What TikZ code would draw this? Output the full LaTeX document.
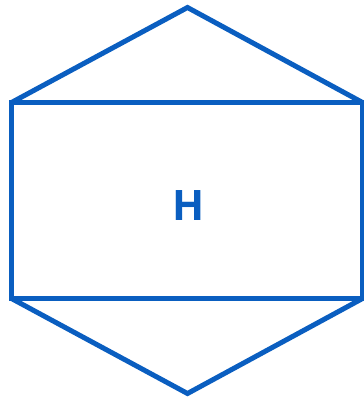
\documentclass[tikz,border=0pt]{standalone}
\usepackage{fontspec}
\setmainfont{Open Sans}
\definecolor{hexblue}{RGB}{10,94,192}
\begin{document}
\begin{tikzpicture}[x=1pt,y=-1pt,
  edge/.style={draw=hexblue,line width=5pt,line join=miter},
  lbl/.style={text=hexblue,font=\fontsize{42}{42}\selectfont\bfseries,inner sep=0pt,anchor=base}]
\useasboundingbox (0,0) rectangle (364,399);
\coordinate (T) at (187.5,7.5);
\coordinate (TL) at (11.5,102.5);
\coordinate (TR) at (362.5,102.5);
\coordinate (BL) at (11.5,298.5);
\coordinate (BR) at (362.5,298.5);
\coordinate (B) at (187.5,393.5);
\draw[edge] (TL) -- (T) -- (TR);
\draw[edge] (TL) rectangle (BR);
\draw[edge] (BL) -- (B) -- (BR);
\node[lbl] (h) at (189,220) {H};
\end{tikzpicture}
\end{document}
